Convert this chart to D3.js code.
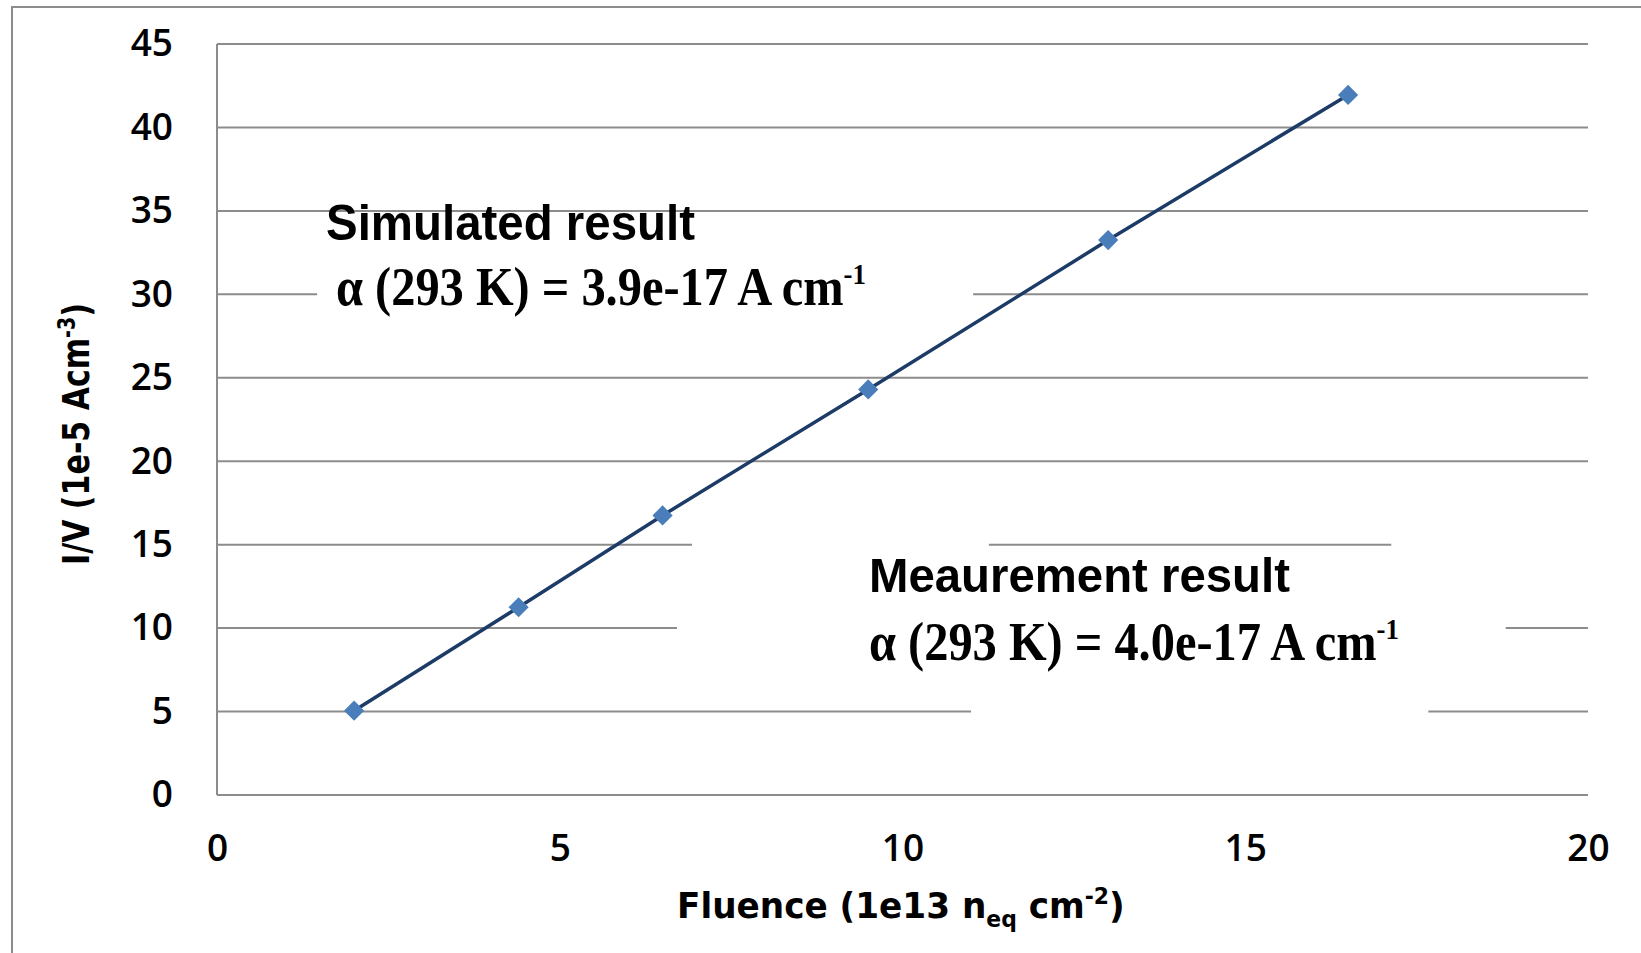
<!DOCTYPE html>
<html>
<head>
<meta charset="utf-8">
<script src="https://cdn.jsdelivr.net/npm/d3@7"></script>
<style>
  body { margin: 0; background: #fff; }
  svg { display: block; }
</style>
</head>
<body>
<svg id="chart" width="1641" height="953"></svg>
<script>
// Leakage current per volume versus fluence
const fluence = [2.0, 4.4, 6.5, 9.5, 13.0, 16.5];            // 1e13 n_eq cm^-2
const currentPerVolume = [5.05, 11.25, 16.75, 24.3, 33.25, 41.95]; // 1e-5 A cm^-3

const xTicks = [0, 5, 10, 15, 20];
const yTicks = [0, 5, 10, 15, 20, 25, 30, 35, 40, 45];

// Stretches of gridlines hidden behind the filled annotation boxes (data units)
const gridGapY = [30, 15, 15, 10, 5];
const gridGapFrom = [1.46, 6.93, 17.13, 6.71, 11.0];
const gridGapTo = [11.03, 11.26, 20.0, 18.8, 17.67];

const svg = d3.select("#chart");
const W = 1641, H = 953;
const plot = { left: 217, right: 1588, top: 44, bottom: 795 };

const x = d3.scaleLinear().domain([0, 20]).range([plot.left, plot.right]);
const y = d3.scaleLinear().domain([0, 45]).range([plot.bottom, plot.top]);

const gridColor = "#8c8c8c";

// Outer chart frame (left and top edges visible)
svg.append("rect")
  .attr("x", 12).attr("y", 7)
  .attr("width", W + 20).attr("height", H + 20)
  .attr("fill", "#fff")
  .attr("stroke", gridColor).attr("stroke-width", 2);

// Horizontal gridlines, broken where annotation boxes sit
const grid = svg.append("g");
yTicks.forEach(v => {
  const gaps = gridGapY.map((gy, i) => ({ y: gy, a: gridGapFrom[i], b: gridGapTo[i] }))
    .filter(g => g.y === v)
    .sort((p, q) => p.a - q.a);
  let start = 0;
  const segs = [];
  gaps.forEach(g => { if (g.a > start) segs.push([start, g.a]); start = g.b; });
  if (start < 20) segs.push([start, 20]);
  segs.forEach(s => {
    grid.append("line")
      .attr("x1", x(s[0])).attr("x2", x(s[1]))
      .attr("y1", y(v)).attr("y2", y(v))
      .attr("stroke", gridColor).attr("stroke-width", 2);
  });
});

// Vertical axis line
svg.append("line")
  .attr("x1", x(0)).attr("x2", x(0))
  .attr("y1", y(0)).attr("y2", y(45))
  .attr("stroke", gridColor).attr("stroke-width", 2);

// Tick labels via d3 axes (domain and tick marks hidden)
const yAxis = svg.append("g")
  .attr("transform", `translate(${x(0)},0)`)
  .call(d3.axisLeft(y).tickValues(yTicks).tickSize(0).tickPadding(44));
const xAxis = svg.append("g")
  .attr("transform", `translate(0,${y(0)})`)
  .call(d3.axisBottom(x).tickValues(xTicks).tickSize(0).tickPadding(40));
[yAxis, xAxis].forEach(ax => {
  ax.select(".domain").remove();
  ax.selectAll("text")
    .attr("font-family", "'Open Sans', sans-serif")
    .attr("font-size", 37)
    .attr("font-weight", 600)
    .attr("fill", "#000");
});

// Series line and markers
const pts = fluence.map((f, i) => [f, currentPerVolume[i]]);
svg.append("path")
  .datum(pts)
  .attr("d", d3.line().x(d => x(d[0])).y(d => y(d[1])))
  .attr("fill", "none")
  .attr("stroke", "#1c3b66")
  .attr("stroke-width", 3.5);

svg.append("g").selectAll("path")
  .data(pts)
  .join("path")
  .attr("transform", d => `translate(${x(d[0])},${y(d[1])})`)
  .attr("d", d3.symbol(d3.symbolDiamond2, 260))
  .attr("fill", "#4a7ebb");

// Helper: fit a text element to a target width horizontally
function fitWidth(sel, x0, baseline, width) {
  const w = sel.node().getComputedTextLength();
  sel.attr("transform", `translate(${x0},${baseline}) scale(${width / w},1)`);
}

function addSup(t, s, size) {
  t.append("tspan").attr("font-size", size).attr("dy", -size * 0.7).text(s);
}

// Annotations
const simTitle = svg.append("text")
  .attr("font-family", "'Liberation Sans', Arial, sans-serif")
  .attr("font-weight", "bold").attr("font-size", 49).attr("fill", "#000")
  .text("Simulated result");
fitWidth(simTitle, 326, 240, 369);

const simAlpha = svg.append("text")
  .attr("font-family", "'Liberation Serif', 'Times New Roman', serif")
  .attr("font-weight", "bold").attr("font-size", 54).attr("fill", "#000");
simAlpha.append("tspan").text("α (293 K) = 3.9e-17 A cm");
addSup(simAlpha, "-1", 30);
fitWidth(simAlpha, 336, 305, 530);

const measTitle = svg.append("text")
  .attr("font-family", "'Liberation Sans', Arial, sans-serif")
  .attr("font-weight", "bold").attr("font-size", 49).attr("fill", "#000")
  .text("Meaurement result");
fitWidth(measTitle, 869, 592, 421);

const measAlpha = svg.append("text")
  .attr("font-family", "'Liberation Serif', 'Times New Roman', serif")
  .attr("font-weight", "bold").attr("font-size", 54).attr("fill", "#000");
measAlpha.append("tspan").text("α (293 K) = 4.0e-17 A cm");
addSup(measAlpha, "-1", 30);
fitWidth(measAlpha, 869, 660, 530);

// Axis titles
const xTitle = svg.append("text")
  .attr("font-family", "'DejaVu Sans', Verdana, sans-serif")
  .attr("font-weight", "bold").attr("font-size", 36).attr("fill", "#000");
xTitle.append("tspan").text("Fluence (1e13 n");
xTitle.append("tspan").attr("font-size", 23).attr("dy", 9).text("eq");
xTitle.append("tspan").attr("dy", -9).text(" cm");
xTitle.append("tspan").attr("font-size", 23).attr("dy", -14).text("-2");
xTitle.append("tspan").attr("dy", 14).text(")");
fitWidth(xTitle, 677, 918, 448);

const yTitle = svg.append("text")
  .attr("font-family", "'DejaVu Sans', Verdana, sans-serif")
  .attr("font-weight", "bold").attr("font-size", 38).attr("fill", "#000");
yTitle.append("tspan").text("I/V (1e-5 Acm");
yTitle.append("tspan").attr("font-size", 24).attr("dy", -14).text("-3");
yTitle.append("tspan").attr("dy", 14).text(")");
{
  const w = yTitle.node().getComputedTextLength();
  const len = 262;
  yTitle.attr("transform", `translate(89,${434 + len / 2}) rotate(-90) scale(${len / w},1)`);
}
</script>
</body>
</html>
